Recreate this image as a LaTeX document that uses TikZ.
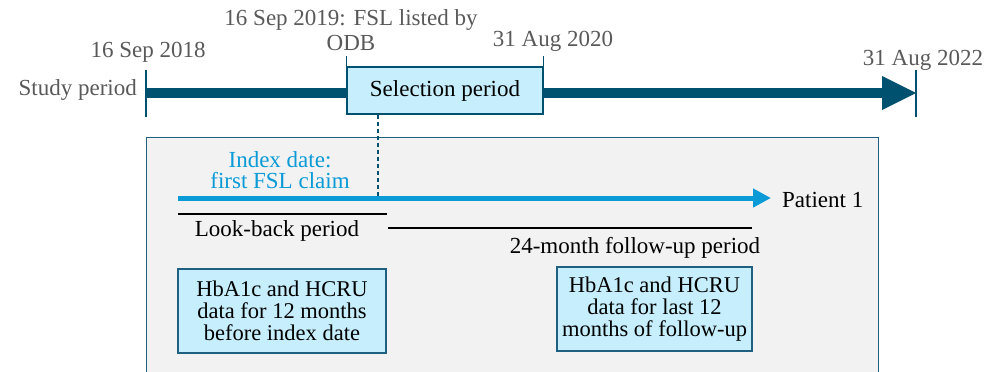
\documentclass[tikz,border=0pt]{standalone}
\usepackage{fontspec}
\setmainfont{Liberation Serif}
\usetikzlibrary{arrows.meta}
\definecolor{teal}{HTML}{00506F}
\definecolor{lightbox}{HTML}{C6EEFC}
\definecolor{boxborder}{HTML}{1F5F7F}
\definecolor{graybg}{HTML}{F2F2F2}
\definecolor{idxblue}{HTML}{0A9BD7}
\definecolor{labgray}{HTML}{595959}
\tikzset{
  datelabel/.style={text=labgray, font=\fontsize{23}{25}\selectfont, align=center, inner sep=0pt},
  plain/.style={font=\fontsize{23}{25}\selectfont, inner sep=0pt},
  databox/.style={draw=boxborder, line width=1.3pt, fill=lightbox, align=center, inner sep=0pt,
     font=\fontsize{22.5}{22}\selectfont},
  tick/.style={draw=teal, line width=1.3pt},
}
\begin{document}
\begin{tikzpicture}[x=1pt,y=-1pt]
\useasboundingbox (0,0) rectangle (996,372);
% gray patient panel
\path[fill=graybg, draw=boxborder, line width=1pt] (146,137) -- (146,380) -- (878,380) -- (878,137) -- cycle;
% study period bar
\coordinate (s0) at (146,93);
\coordinate (s1) at (916,93);
\draw[teal, line width=10pt] (s0) -- (884,93);
\fill[teal] (882,76) -- (s1) -- (882,110) -- cycle;
\draw[tick] (146,70) -- (146,117);
\draw[tick] (916,70) -- (916,117);
% selection period box
\node[draw=teal, line width=1.3pt, fill=lightbox, minimum width=196pt, minimum height=47pt,
      inner sep=0pt, font=\fontsize{23}{25}\selectfont] (sel) at (445,90.5) {Selection period};
\draw[tick] (sel.north west) -- ++(0,-10);
\draw[tick] (sel.north east) -- ++(0,-10);
% labels
\node[datelabel, anchor=east] (sp) at (137,90) {Study period};
\node[datelabel] (d1) at (148,52) {16 Sep 2018};
\node[datelabel] (d2) at (351,30) {16 Sep 2019: FSL listed by\\ODB};
\node[datelabel] (d3) at (553,41) {31 Aug 2020};
\node[datelabel] (d4) at (923,60) {31 Aug 2022};
% patient timeline
\coordinate (p0) at (178,198);
\coordinate (p1) at (771,198);
\draw[idxblue, line width=5pt, -{Triangle[length=18pt,width=18pt]}] (p0) -- (p1);
\node[plain, anchor=west] (pat) at (782,200) {Patient 1};
\node[datelabel, text=idxblue, font=\fontsize{23}{21.5}\selectfont] (idx) at (280,170) {Index date:\\first FSL claim};
\coordinate (dashend) at (378,198);
\draw[teal, line width=1.5pt, dash pattern=on 4pt off 3pt] (sel.south -| dashend) -- (dashend);
% periods
\coordinate (lb0) at (178,214);
\coordinate (lb1) at (387,214);
\draw[line width=1.5pt] (lb0) -- (lb1);
\node[plain] (lbl) at (277,231) {Look-back period};
\coordinate (fu0) at (388,228);
\coordinate (fu1) at (752,228);
\draw[line width=1.5pt] (fu0) -- (fu1);
\node[plain] (ful) at (635,248) {24-month follow-up period};
% data boxes
\node[databox, minimum width=208pt, minimum height=84pt] (b1) at (282,311)
  {HbA1c and HCRU\\data for 12 months\\before index date};
\node[databox, minimum width=195pt, minimum height=84pt] (b2) at (654.5,309)
  {HbA1c and HCRU\\data for last 12\\months of follow-up};
\end{tikzpicture}
\end{document}
